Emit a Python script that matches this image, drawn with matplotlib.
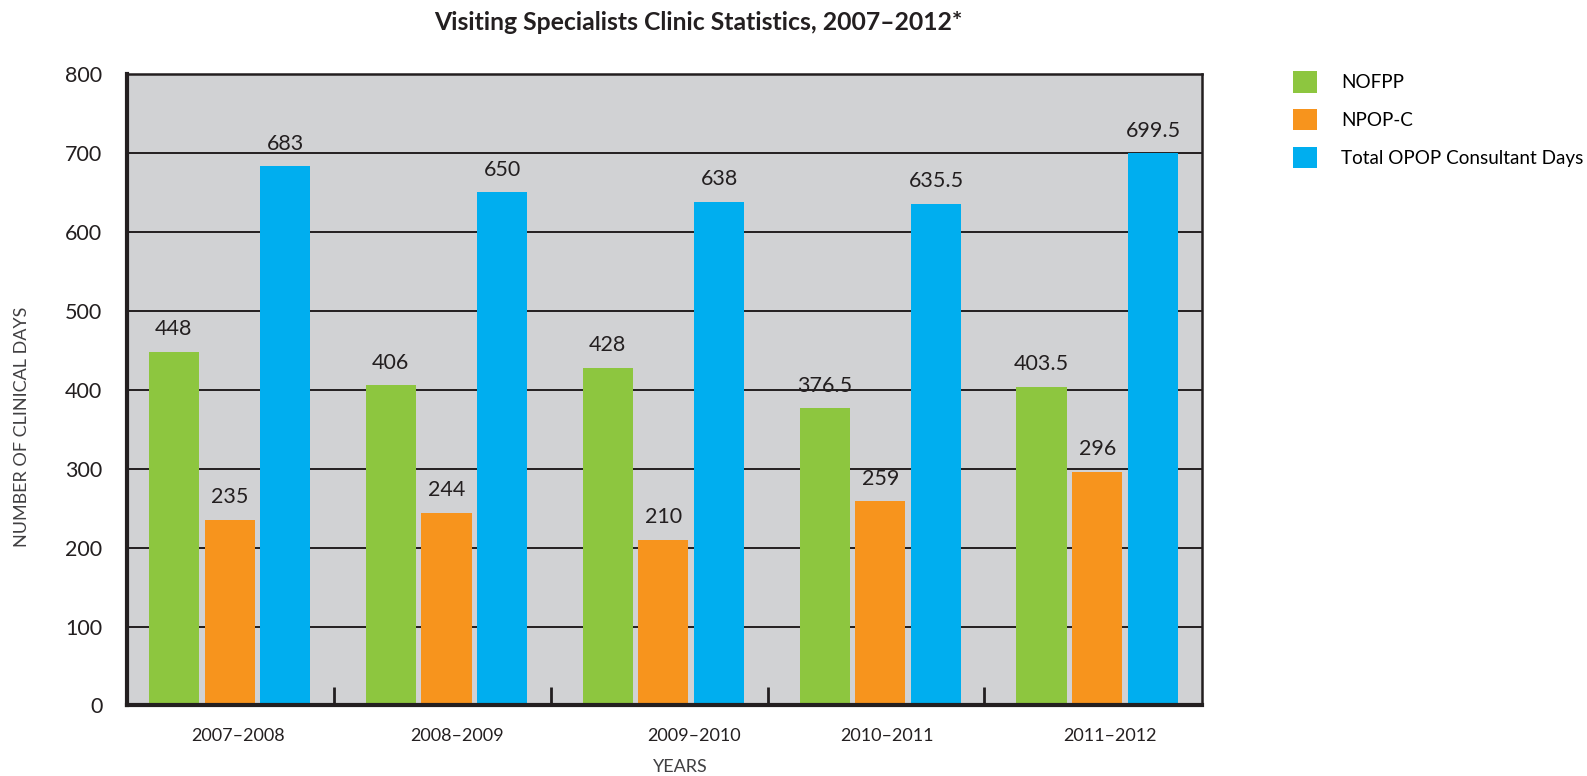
import numpy as np
import matplotlib
matplotlib.use("Agg")
import matplotlib.pyplot as plt
from matplotlib.patches import Patch

# data
years = ["2007–2008", "2008–2009", "2009–2010", "2010–2011", "2011–2012"]
nofpp = [448, 406, 428, 376.5, 403.5]
npop_c = [235, 244, 210, 259, 296]
total_opop = [683, 650, 638, 635.5, 699.5]
series_names = ["NOFPP", "NPOP-C", "Total OPOP Consultant Days"]

colors = ["#8dc63f", "#f7941d", "#00aeef"]
label_shift = [0.04, 0.05, 0.14, 0.03, 0.06]  # year labels sit a bit right of centre

plt.rcParams["font.family"] = ["Lato", "DejaVu Sans"]

fig = plt.figure(figsize=(15.87, 7.76), dpi=100)
ax = fig.add_axes([0.0803, 0.0909, 0.6771, 0.8137])
ax.set_facecolor("#d1d2d4")

x = np.arange(len(years))
width = 0.231
offsets = [-0.257, 0.0, 0.257]

for vals, off, col in zip([nofpp, npop_c, total_opop], offsets, colors):
    bars = ax.bar(x + off, vals, width, color=col, zorder=3)
    for b, v in zip(bars, vals):
        txt = f"{v:g}"
        ax.annotate(txt, (b.get_x() + b.get_width() / 2, v),
                    xytext=(0, 9), textcoords="offset points",
                    ha="center", va="bottom", fontsize=15.5, color="#231f20")

ax.set_ylim(0, 800)
ax.set_xlim(-0.471, 4.483)
ax.set_yticks(range(0, 801, 100))
ax.tick_params(axis="y", length=0, pad=18, labelsize=15.5, labelcolor="#231f20")
for yv in range(100, 800, 100):
    ax.axhline(yv, color="#231f20", lw=1.4, zorder=1)

# boundaries between year groups as inward ticks
ax.set_xticks(np.arange(4) + 0.48)
ax.set_xticklabels([])
ax.tick_params(axis="x", direction="in", length=13, width=2, color="#231f20")
ax.set_xticks(x + np.array(label_shift), minor=True)
ax.set_xticklabels(years, minor=True)
ax.tick_params(axis="x", which="minor", length=0, pad=16, labelsize=13, labelcolor="#231f20")

for side in ["left", "bottom"]:
    ax.spines[side].set_linewidth(3)
for side in ["top", "right"]:
    ax.spines[side].set_linewidth(1.8)
for s in ax.spines.values():
    s.set_color("#231f20")
    s.set_zorder(4)

fig.text(0.44, 0.971, "Visiting Specialists Clinic Statistics, 2007–2012*",
         ha="center", va="center", fontsize=17.8, fontweight="bold", color="#231f20")
fig.text(0.014, 0.45, "NUMBER OF CLINICAL DAYS", rotation=90, ha="center", va="center",
         fontsize=13, color="#414042")
fig.text(0.429, 0.012, "YEARS", ha="center", va="center", fontsize=13, color="#414042")

handles = [Patch(facecolor=c, edgecolor="none") for c in colors]
fig.legend(handles, series_names, loc="upper left", bbox_to_anchor=(0.8145, 0.908),
           frameon=False, fontsize=13.6, handlelength=1.3, handleheight=1.35,
           handletextpad=1.25, labelspacing=0.88, borderaxespad=0, borderpad=0)

fig.savefig("out.png", dpi=100)
